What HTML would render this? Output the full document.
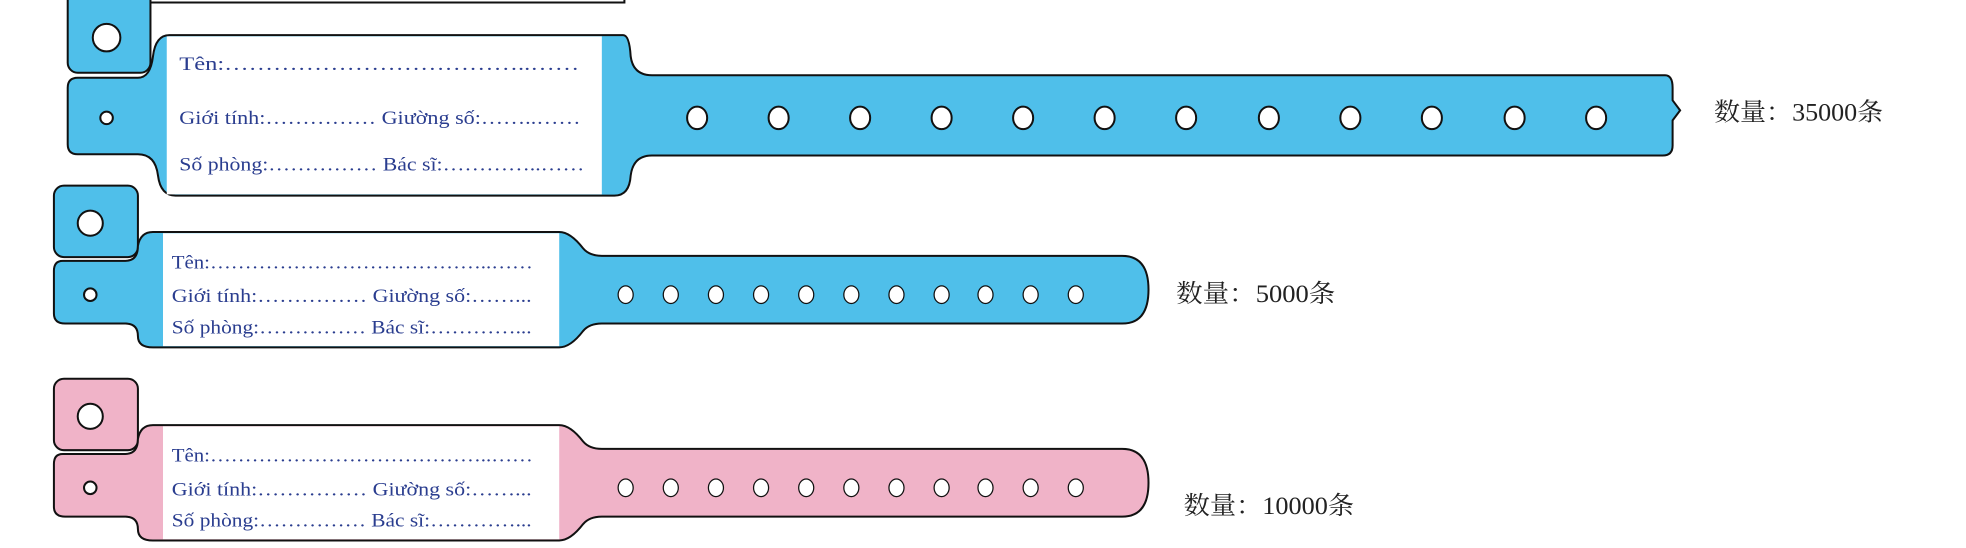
<!DOCTYPE html>
<html><head><meta charset="utf-8"><style>
html,body{margin:0;padding:0;background:#fff;}
svg{display:block;}
.t{font-family:"Liberation Serif","Noto Serif CJK SC",serif;fill:#2a3d8f;}
.c{font-family:"Liberation Serif","Noto Serif CJK SC",serif;fill:#222;}
</style></head><body>
<svg width="1966" height="548" viewBox="0 0 1568 437" preserveAspectRatio="none" xmlns="http://www.w3.org/2000/svg">
<g stroke="#111" stroke-width="1.6">
<rect x="118" y="-6" width="380" height="8" fill="#fff"/>
<!-- band 1 -->
<rect x="54" y="-12" width="66" height="70" rx="8" fill="#4fbfea"/>
<path d="M62,62 H110 Q120,62 122,45 Q124,28 135,28 H497 Q502,28 503,45 Q505,60 520,60 H1328 Q1334,60 1334,70 V80 L1340,88 L1334,96 V116 Q1334,124 1326,124 H520 Q505,124 503,140 Q502,156 490,156 H140 Q128,156 126,140 Q124,123 110,123 H62 Q54,123 54,115 V70 Q54,62 62,62 Z" fill="#4fbfea"/>
<rect x="133" y="29" width="347" height="126" fill="#fff" stroke="none"/>
<circle cx="85" cy="30" r="11" fill="#fff"/>
<circle cx="85" cy="94" r="5" fill="#fff"/>
<g fill="#fff">
<ellipse cx="556" cy="94" rx="8" ry="9"/><ellipse cx="621" cy="94" rx="8" ry="9"/><ellipse cx="686" cy="94" rx="8" ry="9"/><ellipse cx="751" cy="94" rx="8" ry="9"/><ellipse cx="816" cy="94" rx="8" ry="9"/><ellipse cx="881" cy="94" rx="8" ry="9"/><ellipse cx="946" cy="94" rx="8" ry="9"/><ellipse cx="1012" cy="94" rx="8" ry="9"/><ellipse cx="1077" cy="94" rx="8" ry="9"/><ellipse cx="1142" cy="94" rx="8" ry="9"/><ellipse cx="1208" cy="94" rx="8" ry="9"/><ellipse cx="1273" cy="94" rx="8" ry="9"/>
</g>
<!-- band 2 -->
<g>
<rect x="43" y="148" width="67" height="57" rx="8" fill="#4fbfea"/>
<path d="M50,208 H100 Q110,208 110,196 Q112,185 122,185 H446 Q455,185 465,198 Q470,204 480,204 H895 Q916,204 916,231 Q916,258 895,258 H480 Q470,258 465,264 Q455,277 446,277 H122 Q110,277 110,268 Q110,258 100,258 H52 Q43,258 43,250 V216 Q43,208 50,208 Z" fill="#4fbfea"/>
<rect x="130" y="186" width="316" height="90" fill="#fff" stroke="none"/>
<circle cx="72" cy="178" r="10" fill="#fff"/>
<circle cx="72" cy="235" r="5" fill="#fff"/>
<g fill="#fff" stroke-width="1">
<ellipse cx="499" cy="235" rx="6" ry="7"/><ellipse cx="535" cy="235" rx="6" ry="7"/><ellipse cx="571" cy="235" rx="6" ry="7"/><ellipse cx="607" cy="235" rx="6" ry="7"/><ellipse cx="643" cy="235" rx="6" ry="7"/><ellipse cx="679" cy="235" rx="6" ry="7"/><ellipse cx="715" cy="235" rx="6" ry="7"/><ellipse cx="751" cy="235" rx="6" ry="7"/><ellipse cx="786" cy="235" rx="6" ry="7"/><ellipse cx="822" cy="235" rx="6" ry="7"/><ellipse cx="858" cy="235" rx="6" ry="7"/>
</g>
</g>
<!-- band 3 -->
<g transform="translate(0,154)">
<rect x="43" y="148" width="67" height="57" rx="8" fill="#f0b3c8"/>
<path d="M50,208 H100 Q110,208 110,196 Q112,185 122,185 H446 Q455,185 465,198 Q470,204 480,204 H895 Q916,204 916,231 Q916,258 895,258 H480 Q470,258 465,264 Q455,277 446,277 H122 Q110,277 110,268 Q110,258 100,258 H52 Q43,258 43,250 V216 Q43,208 50,208 Z" fill="#f0b3c8"/>
<rect x="130" y="186" width="316" height="90" fill="#fff" stroke="none"/>
<circle cx="72" cy="178" r="10" fill="#fff"/>
<circle cx="72" cy="235" r="5" fill="#fff"/>
<g fill="#fff" stroke-width="1">
<ellipse cx="499" cy="235" rx="6" ry="7"/><ellipse cx="535" cy="235" rx="6" ry="7"/><ellipse cx="571" cy="235" rx="6" ry="7"/><ellipse cx="607" cy="235" rx="6" ry="7"/><ellipse cx="643" cy="235" rx="6" ry="7"/><ellipse cx="679" cy="235" rx="6" ry="7"/><ellipse cx="715" cy="235" rx="6" ry="7"/><ellipse cx="751" cy="235" rx="6" ry="7"/><ellipse cx="786" cy="235" rx="6" ry="7"/><ellipse cx="822" cy="235" rx="6" ry="7"/><ellipse cx="858" cy="235" rx="6" ry="7"/>
</g>
</g>
</g>
<g class="t" font-size="15.5">
<text x="143" y="56" textLength="319" lengthAdjust="spacingAndGlyphs">Tên:………………………………..……</text>
<text x="143" y="99" textLength="320" lengthAdjust="spacingAndGlyphs">Giới tính:……………  Giường số:……..……</text>
<text x="143" y="136" textLength="323" lengthAdjust="spacingAndGlyphs">Số phòng:……………  Bác sĩ:…………..……</text>
<text x="137" y="214" textLength="288" lengthAdjust="spacingAndGlyphs">Tên:…………………………………..……</text>
<text x="137" y="241" textLength="287" lengthAdjust="spacingAndGlyphs">Giới tính:……………  Giường số:……...</text>
<text x="137" y="266" textLength="287" lengthAdjust="spacingAndGlyphs">Số phòng:……………  Bác sĩ:…………...</text>
<text x="137" y="368" textLength="288" lengthAdjust="spacingAndGlyphs">Tên:…………………………………..……</text>
<text x="137" y="395" textLength="287" lengthAdjust="spacingAndGlyphs">Giới tính:……………  Giường số:……...</text>
<text x="137" y="420" textLength="287" lengthAdjust="spacingAndGlyphs">Số phòng:……………  Bác sĩ:…………...</text>
</g>
<g class="c" font-size="20">
<text x="1367" y="96" textLength="135" lengthAdjust="spacingAndGlyphs">数量：35000条</text>
<text x="938" y="241" textLength="127" lengthAdjust="spacingAndGlyphs">数量：5000条</text>
<text x="944" y="410" textLength="136" lengthAdjust="spacingAndGlyphs">数量：10000条</text>
</g>
</svg>
</body></html>
